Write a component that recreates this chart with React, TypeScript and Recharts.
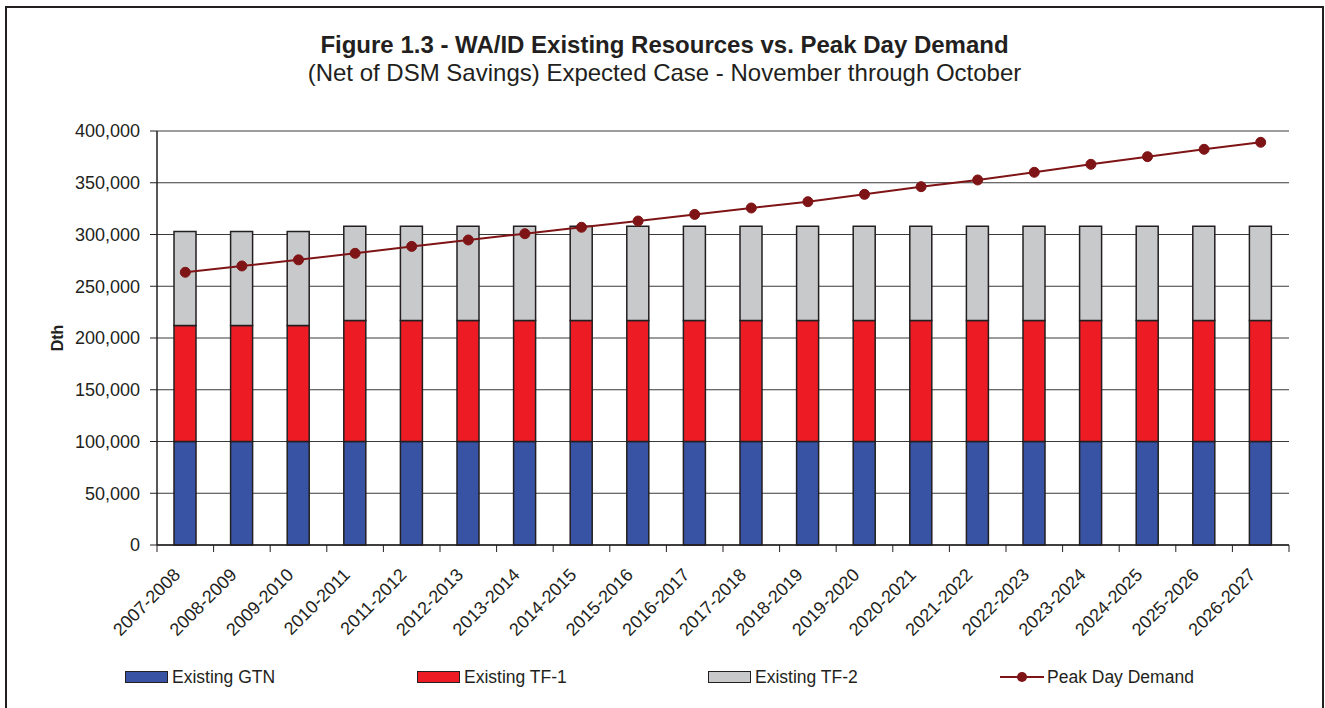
import {
  ComposedChart,
  Bar,
  Line,
  XAxis,
  YAxis,
  CartesianGrid,
} from 'recharts'

const SEASONS = [
  '2007-2008', '2008-2009', '2009-2010', '2010-2011', '2011-2012',
  '2012-2013', '2013-2014', '2014-2015', '2015-2016', '2016-2017',
  '2017-2018', '2018-2019', '2019-2020', '2020-2021', '2021-2022',
  '2022-2023', '2023-2024', '2024-2025', '2025-2026', '2026-2027',
]

const GTN = [
  100000, 100000, 100000, 100000, 100000, 100000, 100000, 100000, 100000, 100000,
  100000, 100000, 100000, 100000, 100000, 100000, 100000, 100000, 100000, 100000,
]

const TF1 = [
  112000, 112000, 112000, 117000, 117000, 117000, 117000, 117000, 117000, 117000,
  117000, 117000, 117000, 117000, 117000, 117000, 117000, 117000, 117000, 117000,
]

const TF2 = [
  91000, 91000, 91000, 91000, 91000, 91000, 91000, 91000, 91000, 91000,
  91000, 91000, 91000, 91000, 91000, 91000, 91000, 91000, 91000, 91000,
]

const PEAK_DEMAND = [
  263500, 269600, 275500, 281800, 288500, 294700, 300800, 307000, 313000, 319400,
  325600, 331700, 338800, 346200, 352700, 360100, 367800, 375200, 382300, 389100,
]

const Y_TICKS = [0, 50000, 100000, 150000, 200000, 250000, 300000, 350000, 400000]

const data = SEASONS.map((season, i) => ({
  season,
  gtn: GTN[i],
  tf1: TF1[i],
  tf2: TF2[i],
  demand: PEAK_DEMAND[i],
}))

const INK = '#231f20'
const FONT = 'Arial, "Liberation Sans", Helvetica, sans-serif'
const CHART_W = 1300
const CHART_H = 700
const MARGIN = { top: 123, right: 18, bottom: 63, left: 0 }
const Y_AXIS_W = 150
const BAND = (CHART_W - MARGIN.left - MARGIN.right - Y_AXIS_W) / SEASONS.length

// category ticks sit on the band edges, labels are slanted
function SeasonTick(props: any) {
  const { x, y, payload, index } = props
  return (
    <g>
      {index === 0 && (
        <line x1={x - BAND / 2} x2={x - BAND / 2} y1={y} y2={y + 7} stroke={INK} />
      )}
      <line x1={x + BAND / 2} x2={x + BAND / 2} y1={y} y2={y + 7} stroke={INK} />
      <text
        transform={`translate(${x - 4},${y + 31}) rotate(-45)`}
        textAnchor="end"
        fontSize={18}
        fontFamily={FONT}
        fill={INK}
      >
        {payload.value}
      </text>
    </g>
  )
}

function LegendSwatch({ color }: { color: string }) {
  return (
    <span style={{
      display: 'inline-block',
      width: 41,
      height: 10,
      background: color,
      border: `1.5px solid ${INK}`,
      marginRight: 4,
      verticalAlign: 'middle',
    }} />
  )
}

function LegendLine() {
  return (
    <svg width={44} height={12} style={{ verticalAlign: 'middle', marginRight: 3 }}>
      <line x1={0} x2={44} y1={6} y2={6} stroke="#7f1416" strokeWidth={2} />
      <circle cx={22} cy={6} r={5} fill="#7f1416" />
    </svg>
  )
}

const legendItems = [
  { label: 'Existing GTN', left: 118, mark: <LegendSwatch color="#3953a4" /> },
  { label: 'Existing TF-1', left: 410, mark: <LegendSwatch color="#ed1c24" /> },
  { label: 'Existing TF-2', left: 701, mark: <LegendSwatch color="#c8c9cb" /> },
  { label: 'Peak Day Demand', left: 993, mark: <LegendLine /> },
]

export default function App() {
  return (
    <div style={{
      position: 'absolute',
      left: 5,
      top: 6,
      width: 1319,
      height: 740,
      boxSizing: 'border-box',
      borderTop: `2px solid ${INK}`,
      borderLeft: `2px solid ${INK}`,
      borderRight: `2px solid ${INK}`,
      borderBottom: `2px solid ${INK}`,
      fontFamily: FONT,
      color: INK,
      background: '#fff',
    }}>
      <div style={{
        position: 'absolute', left: 0, width: 1315, top: 24, textAlign: 'center',
        fontSize: 24, fontWeight: 700, lineHeight: '26px',
      }}>
        Figure 1.3 - WA/ID Existing Resources vs. Peak Day Demand
      </div>
      <div style={{
        position: 'absolute', left: 0, width: 1315, top: 52, textAlign: 'center',
        fontSize: 24, lineHeight: '26px',
      }}>
        (Net of DSM Savings) Expected Case - November through October
      </div>

      <div style={{ position: 'absolute', left: 0, top: 0 }}>
        <ComposedChart width={CHART_W} height={CHART_H} data={data} margin={MARGIN}>
          <CartesianGrid vertical={false} stroke="#3a3a3a" yAxisId="left" />
          <XAxis
            dataKey="season"
            interval={0}
            tickLine={false}
            tickSize={0}
            tickMargin={0}
            height={100}
            axisLine={{ stroke: INK, strokeWidth: 1.5 }}
            tick={<SeasonTick />}
          />
          <YAxis
            yAxisId="left"
            width={Y_AXIS_W}
            domain={[0, 400000]}
            ticks={Y_TICKS}
            interval={0}
            tickSize={7}
            tickMargin={10}
            tickLine={{ stroke: INK }}
            axisLine={{ stroke: INK, strokeWidth: 1.5 }}
            tick={{ fill: INK, fontSize: 18, fontFamily: FONT }}
            tickFormatter={(v: number) => v.toLocaleString('en-US')}
            label={{
              content: () => (
                <text
                  transform="translate(50,330) rotate(-90)"
                  textAnchor="middle"
                  dominantBaseline="central"
                  fontSize={16}
                  fontWeight={700}
                  fontFamily={FONT}
                  fill={INK}
                >
                  Dth
                </text>
              ),
            }}
          />
          <YAxis
            yAxisId="right"
            orientation="right"
            width={0}
            domain={[0, 400000]}
            tick={false}
            tickLine={false}
            axisLine={{ stroke: INK, strokeWidth: 1.5 }}
          />
          <Bar yAxisId="left" dataKey="gtn" stackId="res" barSize={22} fill="#3953a4" stroke={INK} strokeWidth={1.5} isAnimationActive={false} />
          <Bar yAxisId="left" dataKey="tf1" stackId="res" barSize={22} fill="#ed1c24" stroke={INK} strokeWidth={1.5} isAnimationActive={false} />
          <Bar yAxisId="left" dataKey="tf2" stackId="res" barSize={22} fill="#c8c9cb" stroke={INK} strokeWidth={1.5} isAnimationActive={false} />
          <Line
            yAxisId="left"
            dataKey="demand"
            stroke="#7f1416"
            strokeWidth={2}
            dot={{ r: 5, fill: '#7f1416', stroke: '#7f1416', strokeWidth: 1 }}
            activeDot={false}
            isAnimationActive={false}
          />
        </ComposedChart>
      </div>

      {legendItems.map((item) => (
        <div
          key={item.label}
          style={{
            position: 'absolute', left: item.left, top: 656, fontSize: 17.5,
            lineHeight: '24px', whiteSpace: 'nowrap',
          }}
        >
          {item.mark}
          <span style={{ verticalAlign: 'middle' }}>{item.label}</span>
        </div>
      ))}
    </div>
  )
}
